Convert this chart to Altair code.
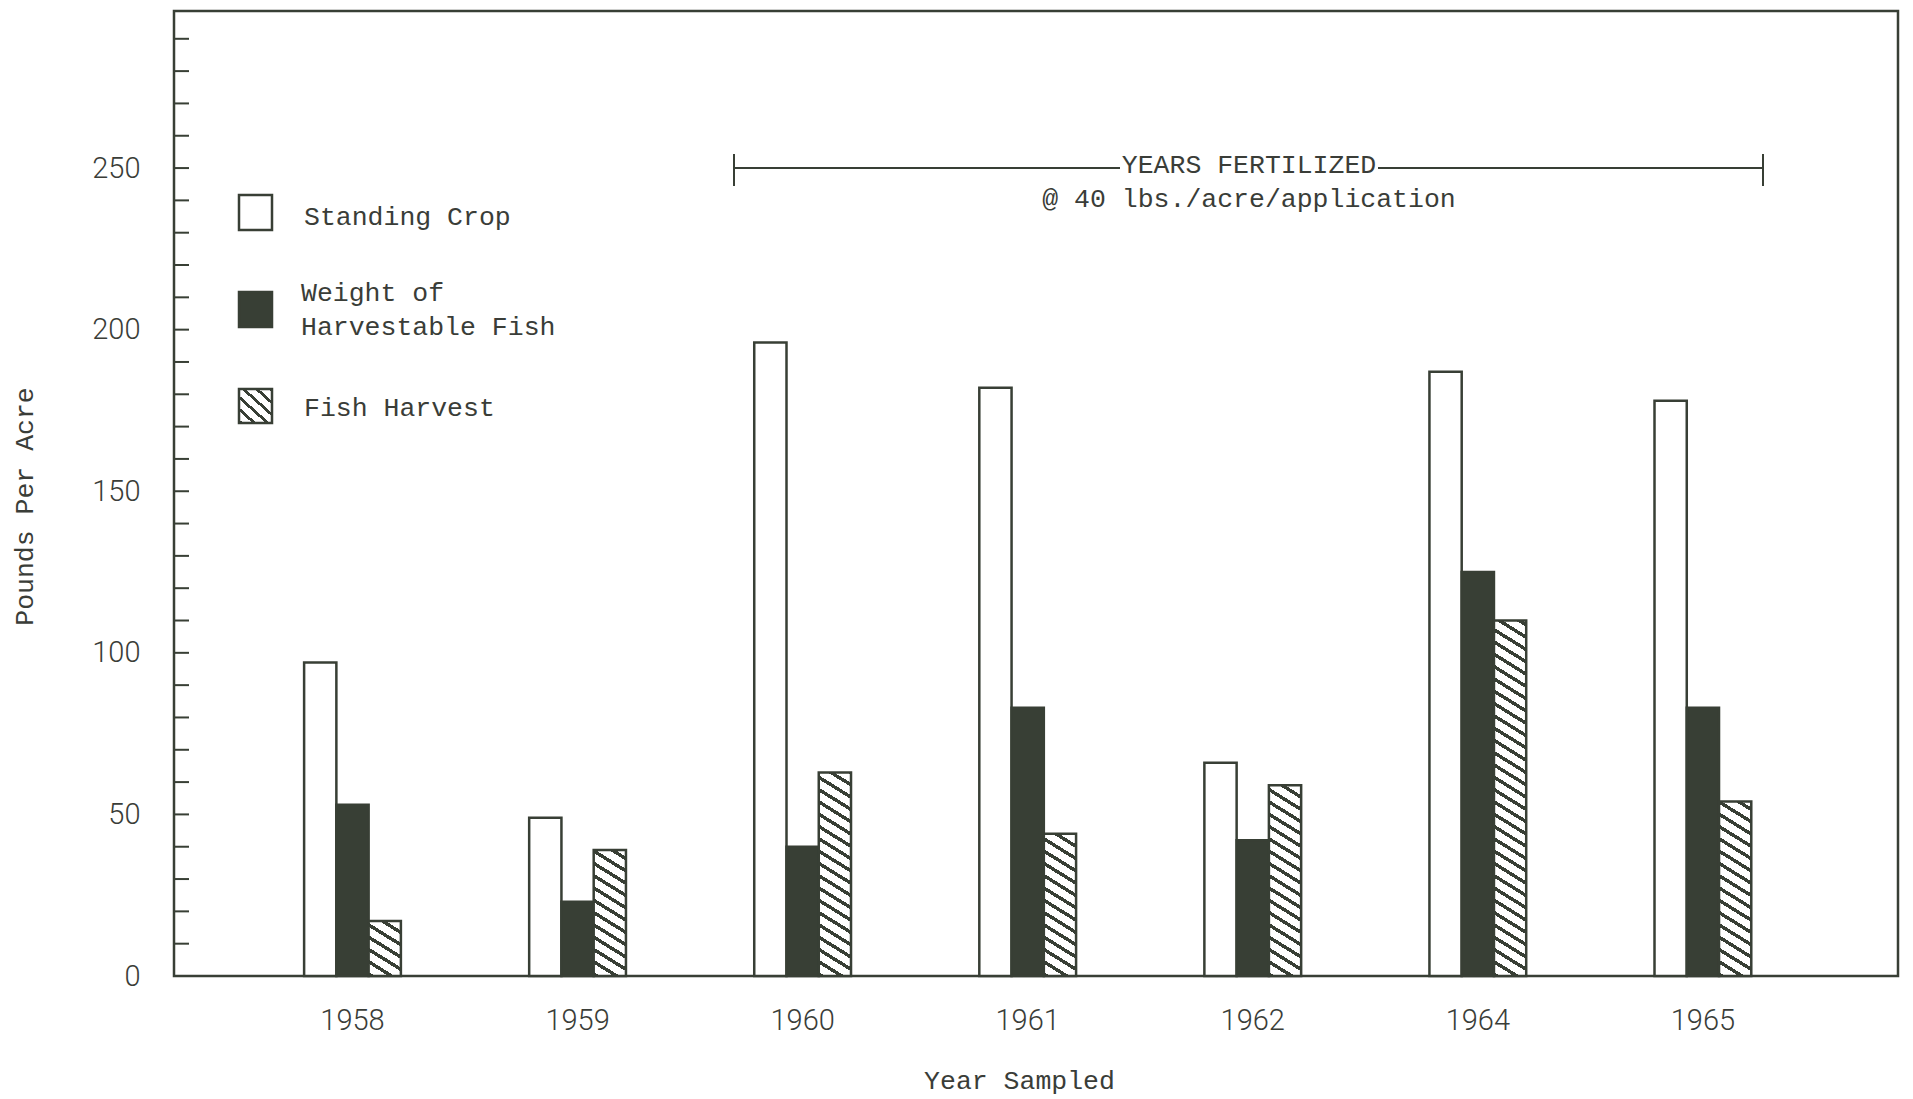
import altair as alt

# ---------------- data ----------------
years = ["1958", "1959", "1960", "1961", "1962", "1964", "1965"]
standing_crop = [97, 49, 196, 182, 66, 187, 178]
harvestable_weight = [53, 23, 40, 83, 42, 125, 83]
fish_harvest = [17, 39, 63, 44, 59, 110, 54]
series_names = ["Standing Crop", "Weight of Harvestable Fish", "Fish Harvest"]
y_label_values = [0, 50, 100, 150, 200, 250]
y_tick_values = list(range(10, 300, 10))

# ---------------- layout / style ----------------
TOP = 11
W, H = 1724, 965
Y_MAX = 298.6
DY = 14 - TOP  # shift for hand-placed annotations
INK = "#383f35"
TEXT = "#3a3d38"
PAPER = "#ffffff"
MONO = "Liberation Mono"
NUMF = "Roboto"

P_INNER, P_OUTER, ALIGN = 0.57, 0.615, 0.47
step = W / (len(years) - P_INNER + 2 * P_OUTER)
bar_w = step * (1 - P_INNER) / 3


def hatch(w, h, s=0.62, pv=12.3, thick=4.0):
    """diagonal '\\' hatch as a hard-stop linear gradient for a w x h box"""
    L = s * w + h
    pt = pv / L
    f = thick / pv
    stops = []
    k = 0
    while k * pt < 1:
        a = k * pt
        b = min(a + f * pt, 1)
        e = min(a + pt, 1)
        stops += [
            {"offset": a, "color": INK},
            {"offset": b, "color": INK},
            {"offset": b, "color": PAPER},
            {"offset": e, "color": PAPER},
        ]
        k += 1
    c = L / (s * s * w * w + h * h)
    return {
        "gradient": "linear",
        "x1": 0, "y1": 1,
        "x2": s * w * c, "y2": 1 - h * c,
        "stops": stops,
    }


rows = []
for i, yr in enumerate(years):
    for name, vals in zip(series_names, [standing_crop, harvestable_weight, fish_harvest]):
        v = vals[i]
        if name == "Standing Crop":
            fill = PAPER
        elif name == "Weight of Harvestable Fish":
            fill = INK
        else:
            fill = hatch(bar_w, v * H / Y_MAX)
        rows.append({"year": yr, "series": name, "value": v, "fill": fill})

y_scale = alt.Scale(domain=[0, Y_MAX], nice=False, zero=True)

bars = alt.Chart(alt.Data(values=rows)).mark_bar(stroke=INK, strokeWidth=2.5).encode(
    x=alt.X(
        "year:N", sort=years,
        scale=alt.Scale(paddingInner=P_INNER, paddingOuter=P_OUTER, align=ALIGN),
        title="Year Sampled",
        axis=alt.Axis(
            labelAngle=0, ticks=False, tickSize=0, domain=False, grid=False,
            labelPadding=30, labelFont=NUMF, labelFontWeight=300, labelFontSize=29,
            labelColor=TEXT, titleFont=MONO, titleFontSize=26.5, titleFontWeight="normal",
            titleColor=TEXT, titleX=845, titleY=104, titleAlign="center",
            titleBaseline="middle",
        ),
    ),
    xOffset=alt.XOffset("series:N", sort=series_names,
                        scale=alt.Scale(paddingInner=0, paddingOuter=0)),
    y=alt.Y(
        "value:Q", scale=y_scale, stack=None, title="Pounds Per Acre",
        axis=alt.Axis(
            values=y_label_values, ticks=False, tickSize=0, domain=False, grid=False,
            labelPadding=34, labelFont=NUMF, labelFontWeight=300, labelFontSize=29,
            labelColor=TEXT, titleFont=MONO, titleFontSize=26.5, titleFontWeight="normal",
            titleColor=TEXT, titleX=-150, titleY=492 + DY, titleAngle=270,
            titleAlign="center", titleBaseline="middle",
        ),
    ),
    fill=alt.Fill("fill:N", scale=None, legend=None),
)

ticks = alt.Chart(alt.Data(values=[{"value": t} for t in y_tick_values])).mark_rule(
    stroke=INK, strokeWidth=2
).encode(
    y=alt.Y("value:Q", scale=y_scale),
    x=alt.value(0),
    x2=alt.value(15),
)

one = alt.Data(values=[{}])
layers = [bars, ticks]

# legend (drawn by hand)
legend_boxes = [
    (65, 98, 181, 216, PAPER),
    (65, 98, 278, 313, INK),
    (65, 98, 375, 409, hatch(33, 34, s=0.9, pv=12.0, thick=3.8)),
]
for x0, x1, y0, y1, f in legend_boxes:
    layers.append(
        alt.Chart(one).mark_rect(fill=f, stroke=INK, strokeWidth=2.5).encode(
            x=alt.value(x0), x2=alt.value(x1), y=alt.value(y0 + DY), y2=alt.value(y1 + DY)
        )
    )

legend_texts = [
    ("Standing Crop", 130, 203),
    ("Weight of", 127, 279),
    ("Harvestable Fish", 127, 313),
    ("Fish Harvest", 130, 394),
]
for t, x, y in legend_texts:
    layers.append(
        alt.Chart(one).mark_text(
            text=t, font=MONO, fontSize=26.5, color=TEXT, align="left", baseline="middle"
        ).encode(x=alt.value(x), y=alt.value(y + DY))
    )

# "years fertilized" bracket
for x0, x1 in [(560, 946), (1204, 1589)]:
    layers.append(
        alt.Chart(one).mark_rule(stroke=INK, strokeWidth=2).encode(
            x=alt.value(x0), x2=alt.value(x1), y=alt.value(154 + DY)
        )
    )
for x0 in [560, 1589]:
    layers.append(
        alt.Chart(one).mark_rule(stroke=INK, strokeWidth=2).encode(
            x=alt.value(x0), y=alt.value(140 + DY), y2=alt.value(172 + DY)
        )
    )
for t, y in [("YEARS FERTILIZED", 151), ("@ 40 lbs./acre/application", 185)]:
    layers.append(
        alt.Chart(one).mark_text(
            text=t, font=MONO, fontSize=26.5, color=TEXT, align="center", baseline="middle"
        ).encode(x=alt.value(1075), y=alt.value(y + DY))
    )

chart = alt.layer(*layers).properties(
    width=W, height=H,
    autosize=alt.AutoSizeParams(type="none"),
    padding={"left": 174, "top": TOP, "right": 15, "bottom": 123},
    background=PAPER,
).configure_view(stroke=INK, strokeWidth=2.5)

chart.save("out.html", embed_options={"renderer": "svg", "actions": False})
